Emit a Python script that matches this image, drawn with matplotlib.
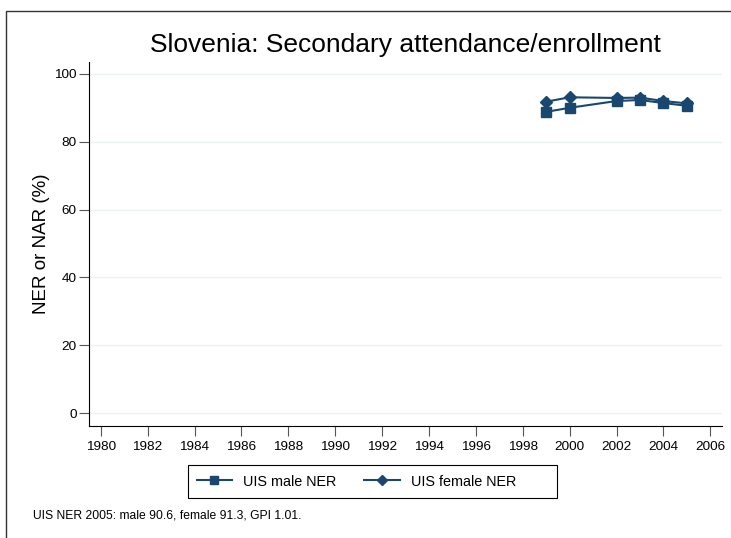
import matplotlib
matplotlib.use('Agg')
import matplotlib.pyplot as plt
from matplotlib.patches import Rectangle

years = [1999, 2000, 2002, 2003, 2004, 2005]
male_ner = [88.8, 90.0, 92.0, 92.3, 91.4, 90.6]
female_ner = [91.8, 93.1, 92.9, 93.0, 92.0, 91.3]
xticks = list(range(1980, 2007, 2))
yticks = [0, 20, 40, 60, 80, 100]

col = '#1a476f'
W, H = 731, 538

plt.rcParams['font.family'] = ['Liberation Sans', 'DejaVu Sans']
fig = plt.figure(figsize=(W / 100, H / 100), dpi=100)
ax = fig.add_axes([89 / W, 1 - 426 / H, (722 - 89) / W, (426 - 62) / H])

ax.plot(years, male_ner, color=col, marker='s', markersize=6.5, linewidth=1.5, label='UIS male NER')
ax.plot(years, female_ner, color=col, marker='D', markersize=6.5, linewidth=1.5, label='UIS female NER')

ax.set_xlim(1979.5, 2006.5)
ax.set_ylim(-3.8, 103.5)
ax.set_xticks(xticks)
ax.set_yticks(yticks)
ax.tick_params(labelsize=9.7, color='#555555', length=7, pad=2)
ax.tick_params(axis='x', pad=4)
ax.grid(axis='y', color='#eaf2f3', linewidth=1)
ax.set_axisbelow(True)
for s in ['top', 'right']:
    ax.spines[s].set_visible(False)

ax.set_ylabel('NER or NAR (%)', fontsize=13.5, labelpad=3)
fig.text(405 / W, 1 - 45 / H, 'Slovenia: Secondary attendance/enrollment', fontsize=19,
         ha='center', va='center')

# legend box drawn separately (extra padding on the right like the original)
fig.patches.append(Rectangle((188 / W, 1 - 498 / H), (557 - 188) / W, 33 / H, transform=fig.transFigure,
                             fill=False, edgecolor='black', linewidth=0.8))
leg = ax.legend(loc='center left', bbox_to_anchor=(188 / W, 1 - 481.5 / H), bbox_transform=fig.transFigure,
                ncol=2, frameon=False, fontsize=10.4, borderaxespad=0,
                handlelength=2.45, handletextpad=0.75, columnspacing=1.95, borderpad=0.6,
                markerscale=0.85)

fig.text(33 / W, 1 - 515 / H, 'UIS NER 2005: male 90.6, female 91.3, GPI 1.01.', fontsize=8.7,
         ha='left', va='center')

fig.patches.append(Rectangle((6 / W, -0.1), 1.2, 1 - 11 / H + 0.1, transform=fig.transFigure,
                             fill=False, edgecolor='#333333', linewidth=1))

fig.savefig('out.png', dpi=100)
